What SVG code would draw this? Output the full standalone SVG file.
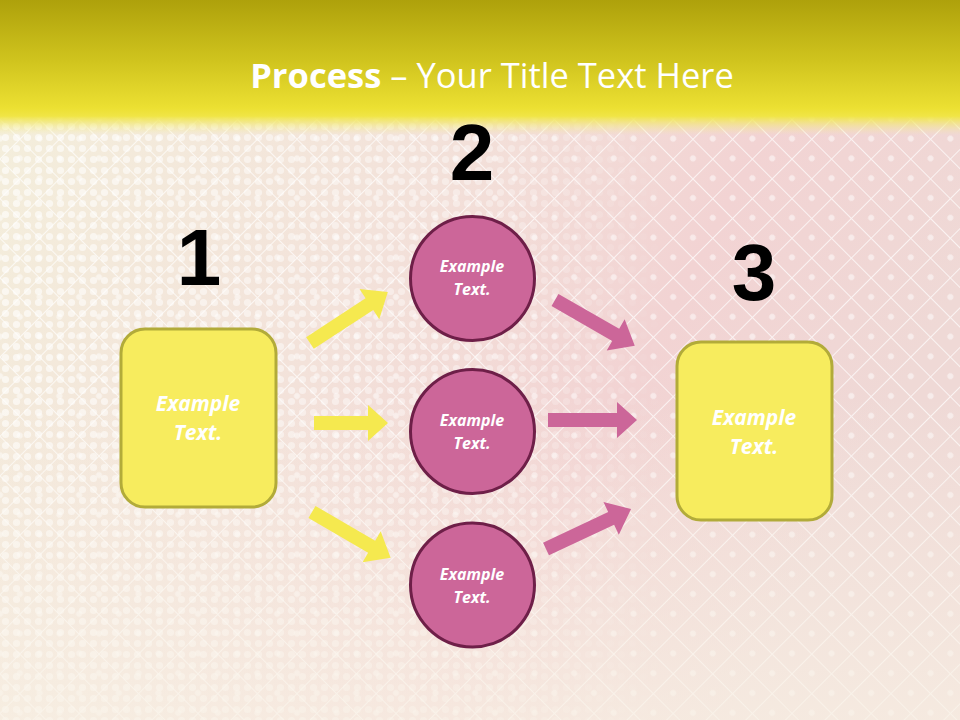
<svg xmlns="http://www.w3.org/2000/svg" width="960" height="720" viewBox="0 0 960 720">
<defs>
<linearGradient id="bg" x1="0" y1="0" x2="1" y2="0.4">
<stop offset="0" stop-color="#f4f0dc"/>
<stop offset="0.45" stop-color="#f3e2da"/>
<stop offset="0.75" stop-color="#f2d3d3"/>
<stop offset="1" stop-color="#efd9d6"/>
</linearGradient>
<linearGradient id="bottomfade" x1="0" y1="0" x2="0" y2="1">
<stop offset="0.55" stop-color="#f8f1e4" stop-opacity="0"/>
<stop offset="1" stop-color="#f8f1e4" stop-opacity="0.7"/>
</linearGradient>
<linearGradient id="hdr" x1="0" y1="0" x2="0" y2="1">
<stop offset="0" stop-color="#aea10b"/>
<stop offset="0.45" stop-color="#d0c41e"/>
<stop offset="0.8" stop-color="#ece032"/>
<stop offset="0.86" stop-color="#f0e545"/>
<stop offset="1" stop-color="#f6eea0" stop-opacity="0"/>
</linearGradient>
<pattern id="grid" width="28" height="28" patternUnits="userSpaceOnUse" patternTransform="rotate(45)">
<path d="M0,0 H28 M0,0 V28" stroke="#ffffff" stroke-width="2" stroke-opacity="0.7" fill="none"/>
<circle cx="14" cy="14" r="3" fill="#ffffff" fill-opacity="0.5"/>
</pattern>
<pattern id="dots" width="11" height="11" patternUnits="userSpaceOnUse">
<circle cx="5.5" cy="5.5" r="3.6" fill="#ffffff" fill-opacity="0.6"/>
</pattern>
<linearGradient id="dotmask" x1="0" y1="0" x2="1" y2="0">
<stop offset="0" stop-color="#fff" stop-opacity="1"/>
<stop offset="0.5" stop-color="#fff" stop-opacity="0.6"/>
<stop offset="0.7" stop-color="#fff" stop-opacity="0"/>
</linearGradient>
<mask id="dm"><rect width="960" height="720" fill="url(#dotmask)"/></mask>
<style>
.box{fill:#f7ec5e;stroke:#b2ab39;stroke-width:3}
.circ{fill:#cc6699;stroke:#6e1f48;stroke-width:3}
.lbl{font-family:"Open Sans","Liberation Sans",sans-serif;font-style:italic;font-weight:bold;fill:#ffffff;text-anchor:middle}
.num{font-family:"Liberation Sans",Arial,sans-serif;font-weight:bold;fill:#000000;font-size:80px;text-anchor:middle}
.ya{fill:#f5e94f}
.pa{fill:#cc6699}
</style>
</defs>
<rect width="960" height="720" fill="url(#bg)"/>
<rect width="960" height="720" fill="url(#dots)" mask="url(#dm)"/>
<rect width="960" height="720" fill="url(#grid)"/>
<rect width="960" height="720" fill="url(#bottomfade)"/>
<rect width="960" height="135" fill="url(#hdr)"/>
<text x="492" y="88" font-family="'Open Sans','Liberation Sans',sans-serif" font-size="34.5" fill="#ffffff" text-anchor="middle"><tspan font-weight="bold">Process</tspan> – Your Title Text Here</text>

<g id="connectors">
<path class="ya" transform="translate(310,343) rotate(-33.2)" d="M0,-7 H71 V-18 L93,0 L71,18 V7 H0 Z"/>
<path class="ya" transform="translate(314,423)" d="M0,-7 H54 V-18 L74,0 L54,18 V7 H0 Z"/>
<path class="ya" transform="translate(312,512) rotate(30.2)" d="M0,-7 H69 V-18 L91,0 L69,18 V7 H0 Z"/>
<path class="pa" transform="translate(555,300) rotate(29.9)" d="M0,-7 H70 V-18 L92,0 L70,18 V7 H0 Z"/>
<path class="pa" transform="translate(548,420)" d="M0,-7 H69 V-18 L89,0 L69,18 V7 H0 Z"/>
<path class="pa" transform="translate(546,549) rotate(-25.2)" d="M0,-7 H72 V-18 L94,0 L72,18 V7 H0 Z"/>
</g>

<g id="node1">
<rect class="box" x="121" y="329" width="155" height="178" rx="24"/>
<text class="lbl" x="198" y="411" font-size="21">Example</text>
<text class="lbl" x="198" y="440" font-size="21">Text.</text>
<text class="num" x="199" y="285">1</text>
</g>
<g id="node2a">
<circle class="circ" cx="472.5" cy="278.5" r="62"/>
<text class="lbl" x="472" y="272" font-size="16">Example</text>
<text class="lbl" x="472" y="295" font-size="16">Text.</text>
<text class="num" x="472" y="180">2</text>
</g>
<g id="node2b">
<circle class="circ" cx="472.5" cy="431.5" r="62"/>
<text class="lbl" x="472" y="426" font-size="16">Example</text>
<text class="lbl" x="472" y="449" font-size="16">Text.</text>
</g>
<g id="node2c">
<circle class="circ" cx="472.5" cy="585" r="62"/>
<text class="lbl" x="472" y="580" font-size="16">Example</text>
<text class="lbl" x="472" y="603" font-size="16">Text.</text>
</g>
<g id="node3">
<rect class="box" x="677" y="342" width="155" height="178" rx="24"/>
<text class="lbl" x="754" y="425" font-size="21">Example</text>
<text class="lbl" x="754" y="454" font-size="21">Text.</text>
<text class="num" x="754" y="300">3</text>
</g>
</svg>
